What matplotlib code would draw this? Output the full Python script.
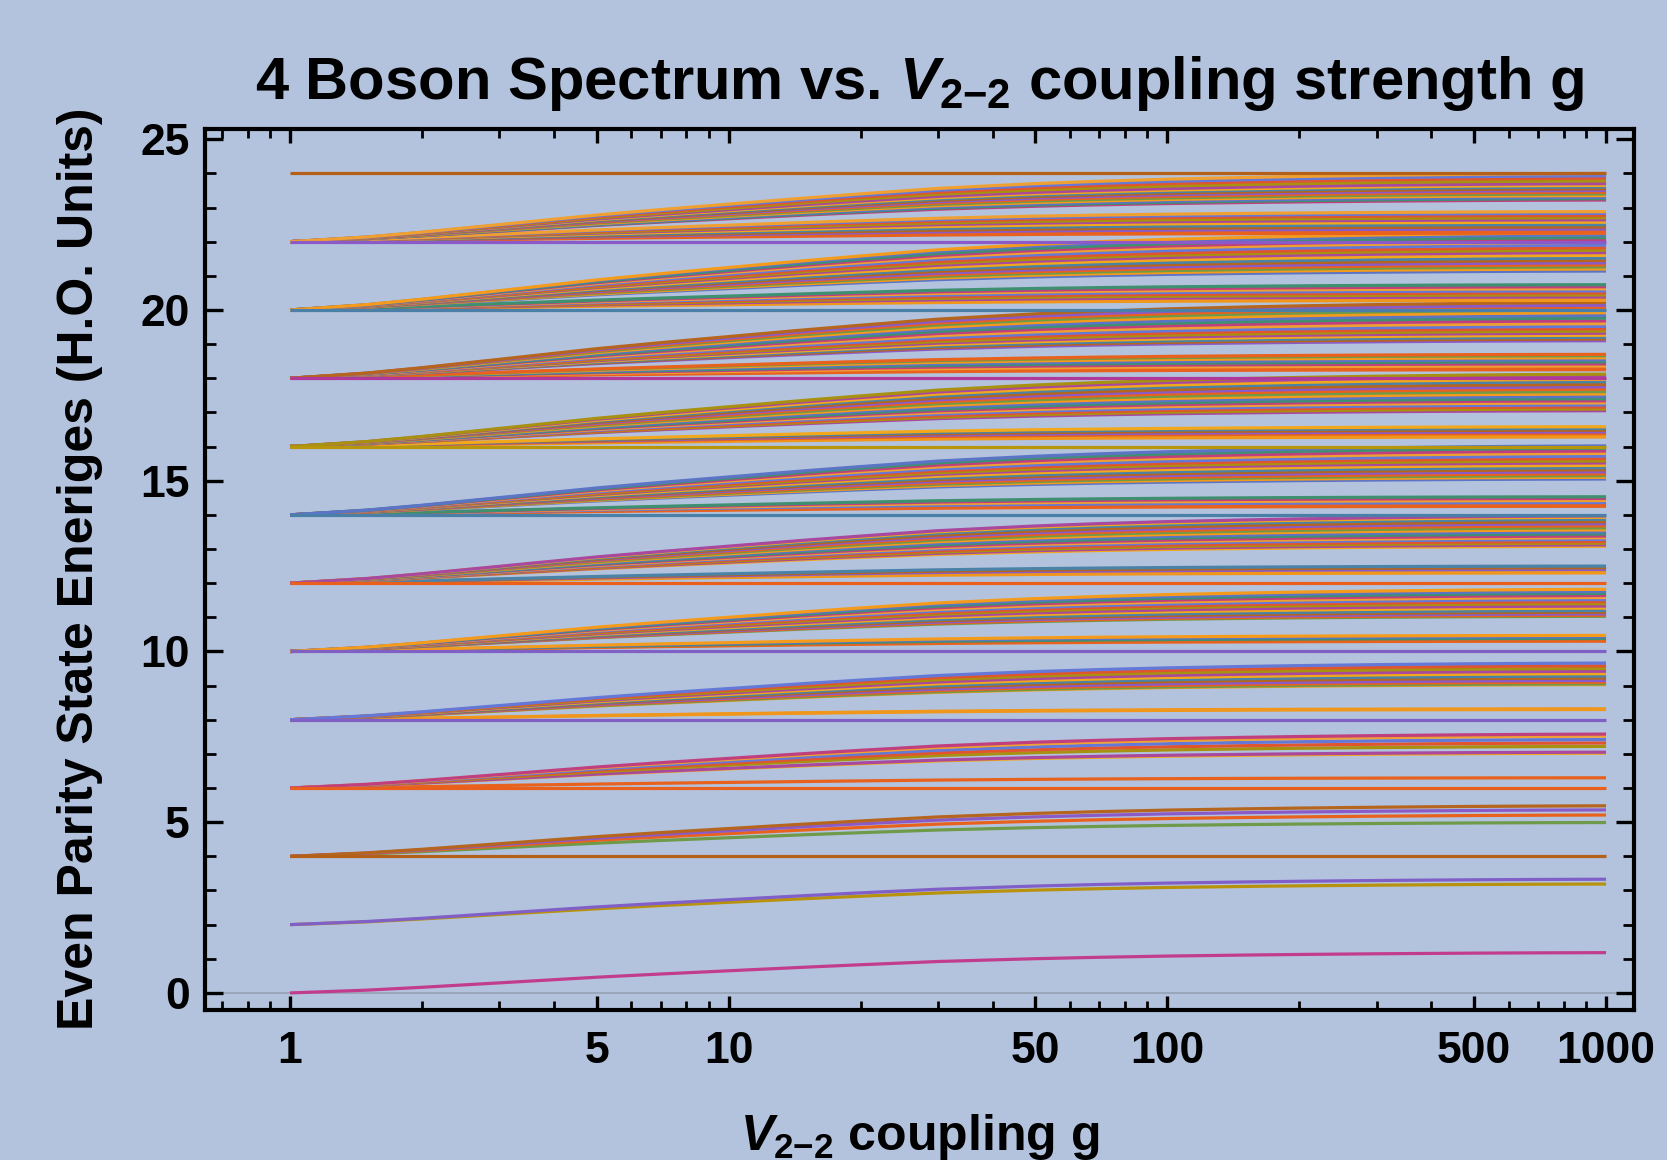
import numpy as np
import matplotlib
matplotlib.use('Agg')
from matplotlib import pyplot as plt
from matplotlib.ticker import FixedLocator, FixedFormatter, NullFormatter, MultipleLocator

plt.rcParams['font.family'] = ['Liberation Sans', 'DejaVu Sans']
plt.rcParams['font.weight'] = 'bold'
plt.rcParams['mathtext.fontset'] = 'custom'
plt.rcParams['mathtext.rm'] = 'Liberation Sans:bold'
plt.rcParams['mathtext.bf'] = 'Liberation Sans:bold'
plt.rcParams['mathtext.it'] = 'Liberation Sans:italic:bold'

# rise profile (fraction of final shift)
g_pts = [1, 1.5, 2, 3, 5, 7, 10, 15, 20, 30, 40, 50, 70, 100, 150, 200, 300, 500, 700, 1000]
rise = [0, 0.07, 0.14, 0.25, 0.39, 0.47, 0.55, 0.64, 0.70, 0.78, 0.82, 0.85, 0.885, 0.915, 0.94,
        0.955, 0.972, 0.988, 0.995, 1.0]

# unperturbed even levels (value at g = 1)
levels = [0, 2, 4, 6, 8, 10, 12, 14, 16, 18, 20, 22, 24]

# energies at g = 1000 for every line of each level
ends = [
    [1.18],
    [3.19, 3.33],
    [4.0, 4.99, 5.21, 5.36, 5.48],
    [6.0, 6.30, 7.02, 7.05, 7.22, 7.32, 7.42, 7.52, 7.58],
    [8.0, 8.30, 8.32, 9.03, 9.05, 9.10, 9.15, 9.22, 9.28, 9.35, 9.42, 9.50, 9.58, 9.66],
    [10.0, 10.30, 10.33, 10.38, 10.43, 10.47,
     11.03, 11.06, 11.10, 11.15, 11.20, 11.27, 11.33, 11.40, 11.46, 11.52, 11.58, 11.64, 11.70, 11.76, 11.82],
    [12.0, 12.30, 12.35, 12.40, 12.45, 12.50,
     13.08, 13.12, 13.17, 13.22, 13.28, 13.33, 13.38, 13.44, 13.50, 13.56, 13.62, 13.68, 13.74, 13.80, 13.87, 13.93, 13.97],
    [14.0, 14.25, 14.30, 14.36, 14.42, 14.48, 14.53,
     15.05, 15.10, 15.15, 15.20, 15.26, 15.32, 15.38, 15.45, 15.52, 15.58, 15.65, 15.72, 15.80, 15.87, 15.95, 16.02],
    [16.0, 16.28, 16.33, 16.38, 16.43, 16.48, 16.53, 16.58,
     17.05, 17.10, 17.16, 17.22, 17.28, 17.34, 17.40, 17.47, 17.54, 17.61, 17.68, 17.75, 17.82, 17.90, 17.97, 18.05, 18.12],
    [18.0, 18.25, 18.30, 18.36, 18.42, 18.48, 18.54, 18.60, 18.66, 18.70,
     19.10, 19.15, 19.20, 19.26, 19.32, 19.38, 19.45, 19.52, 19.60, 19.68, 19.76, 19.84, 19.92, 20.00, 20.07, 20.14, 20.22],
    [20.0, 20.28, 20.33, 20.38, 20.44, 20.50, 20.56, 20.62, 20.68, 20.74,
     21.14, 21.20, 21.26, 21.32, 21.38, 21.45, 21.52, 21.60, 21.68, 21.75, 21.82, 21.90, 21.98, 22.05, 22.12, 22.20, 22.26],
    [22.0, 22.25, 22.31, 22.37, 22.43, 22.50, 22.57, 22.64, 22.70, 22.77, 22.83, 22.88,
     23.22, 23.26, 23.30, 23.35, 23.40, 23.45, 23.50, 23.55, 23.60, 23.65, 23.70, 23.78, 23.86, 23.93, 24.0],
    [24.0],
]

# colour of the line that stays flat in each level
flat_colors = ['#C23C8E', '#B8920C', '#B5601A', '#E8601C', '#8060C4', '#8060C4', '#E8601C',
               '#4A80A8', '#B8960A', '#B0389A', '#4A80A8', '#8A5BC8', '#B5601A']

palette = ['#5B74C6', '#F59B1B', '#6E9A4A', '#E8621E', '#8A5BC8', '#B5651D', '#4A82A8',
           '#F2A81A', '#A8489F', '#A89010', '#E0552E', '#6478D8', '#F0A030', '#C0407F', '#3F9070']

bg = '#B3C3DD'
fig = plt.figure(figsize=(16.67, 11.6), dpi=100, facecolor=bg)
ax = fig.add_axes([0.123, 0.1293, 0.857, 0.7595], facecolor=bg)

ax.axhline(0, color='#98A4B8', lw=1.3, zorder=0)

frac = np.array(rise)
count = 0
flat_lines = []
for i, E0 in enumerate(levels):
    for E1 in ends[i]:
        y = E0 + (E1 - E0) * frac
        if E1 == E0 or len(ends[i]) == 1:
            flat_lines.append((y, flat_colors[i]))
            continue
        if E0 == 2:
            c = '#B8920C' if E1 < 3.25 else '#8060C8'
        elif E1 - E0 < 0.35:
            c = '#F0961A' if E0 % 4 == 0 else '#E8621E'
        else:
            c = palette[count % len(palette)]
        count += 1
        ax.plot(g_pts, y, color=c, lw=2.3, solid_capstyle='butt', zorder=2)
for y, c in flat_lines:
    ax.plot(g_pts, y, color=c, lw=2.3, solid_capstyle='butt', zorder=3)

ax.set_xscale('log')
ax.set_xlim(0.64, 1156)
ax.set_ylim(-0.5, 25.3)

ax.xaxis.set_major_locator(FixedLocator([1, 5, 10, 50, 100, 500, 1000]))
ax.xaxis.set_major_formatter(FixedFormatter(['1', '5', '10', '50', '100', '500', '1000']))
ax.xaxis.set_minor_locator(FixedLocator([0.7, 0.8, 0.9, 2, 3, 4, 6, 7, 8, 9, 20, 30, 40, 60, 70, 80, 90,
                                         200, 300, 400, 600, 700, 800, 900]))
ax.xaxis.set_minor_formatter(NullFormatter())
ax.yaxis.set_major_locator(MultipleLocator(5))
ax.yaxis.set_minor_locator(MultipleLocator(1))

ax.tick_params(which='both', direction='in', top=True, right=True, color='black', labelsize=32)
ax.tick_params(axis='x', which='major', length=10, width=2.4, pad=15)
ax.tick_params(axis='x', which='minor', length=6.5, width=2.0)
ax.tick_params(axis='y', which='major', length=13, width=2.4, pad=11)
ax.tick_params(axis='y', which='minor', length=8, width=2.0)
for s in ax.spines.values():
    s.set_linewidth(3)

cx = 0.123 + 0.857 / 2
fig.text(cx, 0.9147, r'4 Boson Spectrum vs. $\mathit{V}_{\mathrm{2{-}2}}$ coupling strength g',
         ha='center', va='baseline', fontsize=43, fontweight='bold')
fig.text(cx, 0.0086, r'$\mathit{V}_{\mathrm{2{-}2}}$ coupling g',
         ha='center', va='baseline', fontsize=36, fontweight='bold')
fig.text(0.048, 0.5095, 'Even Parity State Eneriges (H.O. Units)', rotation=90,
         ha='center', va='center', fontsize=36, fontweight='bold')

plt.savefig('out.png', dpi=100, facecolor=bg)
